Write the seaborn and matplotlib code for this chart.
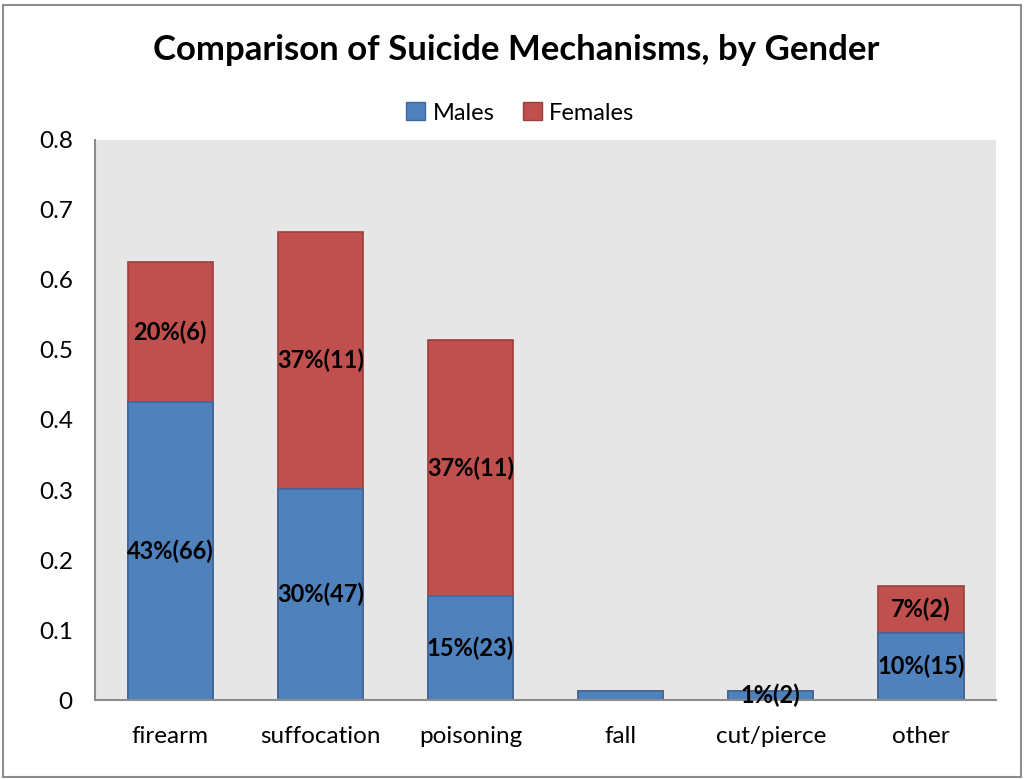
import numpy as np
import pandas as pd
import seaborn as sns
import matplotlib.pyplot as plt
from matplotlib.patches import Patch, Rectangle

# chart data
mechanisms = ["firearm", "suffocation", "poisoning", "fall", "cut/pierce", "other"]
males = [0.425, 0.302, 0.148, 0.013, 0.013, 0.096]
females = [0.200, 0.367, 0.366, 0.0, 0.0, 0.067]
male_labels = ["43%(66)", "30%(47)", "15%(23)", "", "1%(2)", "10%(15)"]
female_labels = ["20%(6)", "37%(11)", "37%(11)", "", "", "7%(2)"]

sns.set_theme(style="white")
plt.rcParams['font.family'] = ['Lato', 'DejaVu Sans']
plt.rcParams['text.color'] = 'black'
plt.rcParams['xtick.color'] = 'black'
plt.rcParams['ytick.color'] = 'black'

df = pd.DataFrame({"mechanism": mechanisms, "Males": males, "Females": females})
df["total"] = df["Males"] + df["Females"]

blue, red = "#4F81BD", "#C0504D"

fig = plt.figure(figsize=(10.26, 7.79), dpi=100)
ax = fig.add_axes([0.0926, 0.1014, 0.8782, 0.7189])
ax.set_facecolor("#E6E6E6")

# stacked: full height in red, males over it in blue
sns.barplot(data=df, x="mechanism", y="total", color=red, width=0.567,
            edgecolor="#9C3E3B", linewidth=1.2, saturation=1, ax=ax)
sns.barplot(data=df, x="mechanism", y="Males", color=blue, width=0.567,
            edgecolor="#3F689A", linewidth=1.2, saturation=1, ax=ax)

for i in range(len(mechanisms)):
    if male_labels[i]:
        ax.text(i, males[i] / 2, male_labels[i], ha="center", va="center",
                fontsize=17, fontweight="bold", color="black")
    if female_labels[i]:
        ax.text(i, males[i] + females[i] / 2, female_labels[i], ha="center",
                va="center", fontsize=17, fontweight="bold", color="black")

ax.set_ylim(0, 0.8)
ax.set_xlim(-0.5, len(mechanisms) - 0.5)
ax.set_yticks(np.arange(0, 0.81, 0.1))
ax.set_yticklabels(["0", "0.1", "0.2", "0.3", "0.4", "0.5", "0.6", "0.7", "0.8"])
ax.set_xlabel("")
ax.set_ylabel("")
ax.tick_params(axis="y", length=0, pad=16, labelsize=17.5)
ax.tick_params(axis="x", length=0, pad=19, labelsize=17.5)
for s in ["top", "right"]:
    ax.spines[s].set_visible(False)
for s in ["left", "bottom"]:
    ax.spines[s].set_color("#8C8C8C")
    ax.spines[s].set_linewidth(1.5)

fig.suptitle("Comparison of Suicide Mechanisms, by Gender", x=0.503, y=0.936,
             va="center", fontsize=25, fontweight="bold", color="black")

handles = [Patch(facecolor=blue, edgecolor="#3F689A", label="Males"),
           Patch(facecolor=red, edgecolor="#9C3E3B", label="Females")]
fig.legend(handles=handles, loc="center", bbox_to_anchor=(0.507, 0.855), ncol=2,
           frameon=False, fontsize=17, handlelength=0.8, handleheight=0.8,
           handletextpad=0.3, columnspacing=1.2)

fig.patches.append(Rectangle((0.003, 0.003), 0.992, 0.99, transform=fig.transFigure,
                             fill=False, edgecolor="#8C8C8C", linewidth=1.5))

fig.savefig("out.png", dpi=100)
